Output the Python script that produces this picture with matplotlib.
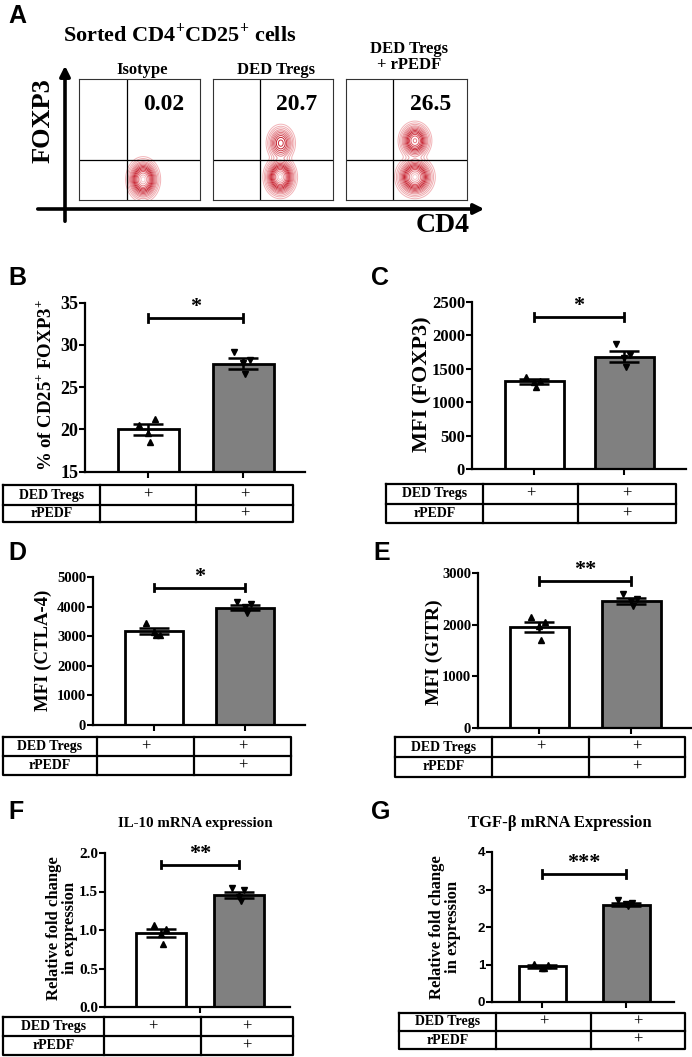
import numpy as np
import matplotlib.pyplot as plt
from matplotlib.colors import LinearSegmentedColormap

plt.rcParams['font.family'] = ['Liberation Serif', 'DejaVu Serif']
plt.rcParams['font.weight'] = 'bold'
plt.rcParams['mathtext.fontset'] = 'custom'
plt.rcParams['mathtext.rm'] = 'Liberation Serif:bold'
plt.rcParams['mathtext.bf'] = 'Liberation Serif:bold'

W, H = 692, 1057

# ---- panel A data ----
flow_samples = ['Isotype', 'DED Tregs', 'DED Tregs\n+ rPEDF']
flow_pct = ['0.02', '20.7', '26.5']
# populations: (x, y, sx, sy, weight) in gate-box fractions
flow_pops = [
    [(0.53, 0.17, 0.05, 0.065, 1.0)],
    [(0.56, 0.19, 0.05, 0.062, 1.0), (0.565, 0.47, 0.047, 0.06, 0.45)],
    [(0.57, 0.19, 0.058, 0.062, 1.0), (0.57, 0.49, 0.05, 0.058, 0.75)],
]

# ---- bar panels data ----
groups = ['DED Tregs', 'DED Tregs + rPEDF']
row_names = ['DED Tregs', 'rPEDF']
row_marks = [['+', '+'], ['', '+']]

b_mean = [20.0, 27.8]
b_sem = [0.6, 0.6]
b_pts = [[20.5, 21.2, 19.6, 18.5], [29.2, 28.2, 27.9, 26.6]]

c_mean = [1310, 1680]
c_sem = [40, 80]
c_pts = [[1380, 1320, 1300, 1230], [1870, 1700, 1660, 1520]]

d_mean = [3180, 3960]
d_sem = [110, 90]
d_pts = [[3450, 3050, 3150, 3030], [4150, 4100, 4000, 3800]]

e_mean = [1950, 2460]
e_sem = [100, 60]
e_pts = [[2150, 2050, 1980, 1700], [2600, 2500, 2450, 2370]]

f_mean = [0.96, 1.46]
f_sem = [0.05, 0.04]
f_pts = [[1.07, 1.01, 0.95, 0.82], [1.55, 1.52, 1.43, 1.38]]

g_mean = [0.95, 2.60]
g_sem = [0.03, 0.05]
g_pts = [[1.02, 0.98, 0.92, 0.90], [2.73, 2.65, 2.62, 2.55]]

jitter = [-0.09, 0.07, 0.0, 0.02]


def rect(l, t, r, b):
    return [l / W, 1 - b / H, (r - l) / W, (b - t) / H]


fig = plt.figure(figsize=(W / 100, H / 100), dpi=100)
fig.patch.set_facecolor('white')

# overlay for free text, arrows and the treatment tables
ov = fig.add_axes([0, 0, 1, 1])
ov.set_xlim(0, W)
ov.set_ylim(H, 0)
ov.axis('off')
ov.patch.set_alpha(0)

# ---------- panel A ----------
ov.text(8, 16, 'A', family='Liberation Sans', fontsize=18, fontweight='bold', va='center')
ov.text(180, 34, 'Sorted CD4$^{+}$CD25$^{+}$ cells', fontsize=16, ha='center', va='center')
ov.annotate('', xy=(65, 63), xytext=(65, 224),
            arrowprops=dict(arrowstyle='-|>,head_length=0.6,head_width=0.3', lw=2.6, color='black'))
ov.annotate('', xy=(487, 209), xytext=(35, 209),
            arrowprops=dict(arrowstyle='-|>,head_length=0.6,head_width=0.3', lw=2.6, color='black'))
ov.text(43, 121, 'FOXP3', fontsize=19, rotation=90, ha='center', va='center')
ov.text(443, 226, 'CD4', fontsize=20, ha='center', va='center')

flow_boxes = [(79, 79, 200, 200), (213, 79, 333, 200), (346, 79, 467, 200)]
flow_qx = [0.40, 0.39, 0.39]
flow_titles_y = [70, 70, 57]
cm = LinearSegmentedColormap.from_list('flow', ['#f2b4b8', '#c41e2c', '#e0606a', '#f6c8cb'])
gx, gy = np.meshgrid(np.linspace(0, 1, 300), np.linspace(0, 1, 300))
for i, pops in enumerate(flow_pops):
    l, t, r, b = flow_boxes[i]
    ax = fig.add_axes(rect(l, t, r, b))
    z = sum(w * np.exp(-((gx - x) ** 2 / (2 * sx ** 2) + (gy - y) ** 2 / (2 * sy ** 2)))
            for x, y, sx, sy, w in pops)
    lv = [0.015, 0.03, 0.05, 0.08, 0.11, 0.15, 0.2, 0.26, 0.33, 0.41, 0.5, 0.6, 0.72, 0.85, 0.95]
    ax.contour(gx, gy, z, levels=lv, cmap=cm, linewidths=0.7)
    ax.axvline(flow_qx[i], color='black', lw=0.9)
    ax.axhline(0.33, color='black', lw=0.9)
    ax.set_xlim(0, 1)
    ax.set_ylim(0, 1)
    ax.set_xticks([])
    ax.set_yticks([])
    for s in ax.spines.values():
        s.set_linewidth(0.8)
        s.set_color('#333333')
    ax.text(0.7, 0.79, flow_pct[i], transform=ax.transAxes, fontsize=17, ha='center', va='center')
    ov.text((l + r) / 2 + 3, flow_titles_y[i], flow_samples[i], fontsize=12,
            ha='center', va='center', linespacing=1.0)


def bar_panel(px, means, sems, pts, ylim, yticks, sig, stars, tsize, xtick_px=None, sans=False):
    left, top, right, bottom, c1, c2, bw = px
    ax = fig.add_axes(rect(left, top, right, bottom))
    u = c2 - c1
    ax.set_xlim(-(c1 - left) / u, 1 + (right - c2) / u)
    ax.set_ylim(*ylim)
    xs = [0, 1]
    ax.bar(xs, means, width=bw / u, color=['white', '#808080'], edgecolor='black', linewidth=2, zorder=2)
    ax.errorbar(xs, means, yerr=sems, fmt='none', ecolor='black', elinewidth=1.8,
                capsize=11, capthick=1.8, zorder=4)
    mk = ['^', 'v']
    for j in range(2):
        ax.plot([xs[j] + o for o in jitter], pts[j], mk[j], color='black', ms=4.5, zorder=3,
                clip_on=False)
    span = ylim[1] - ylim[0]
    d = span * 0.025
    ax.plot([0, 1], [sig, sig], color='black', lw=2, solid_capstyle='butt', clip_on=False)
    ax.plot([0, 0], [sig - d, sig + d], color='black', lw=2, clip_on=False)
    ax.plot([1, 1], [sig - d, sig + d], color='black', lw=2, clip_on=False)
    ax.text(0.5, sig + span * 0.005, stars, ha='center', va='bottom', fontsize=16)
    for s in ['top', 'right']:
        ax.spines[s].set_visible(False)
    for s in ['left', 'bottom']:
        ax.spines[s].set_linewidth(1.6)
    ax.set_yticks(yticks)
    ax.set_yticklabels(['%g' % v for v in yticks])
    if xtick_px is None:
        ax.set_xticks(xs)
    else:
        ax.set_xticks([(xtick_px - c1) / u])
    ax.set_xticklabels([])
    ax.tick_params(axis='both', width=1.5, length=4, direction='out')
    ax.tick_params(axis='y', labelsize=tsize, pad=1)
    if sans:
        for lab in ax.get_yticklabels():
            lab.set_family('Liberation Sans')
            lab.set_fontweight('bold')
    return ax


def table(x0, x1, x2, x3, y0, y1, y2):
    kw = dict(color='black', lw=1.6)
    ov.plot([x0, x3, x3, x0, x0], [y0, y0, y2, y2, y0], **kw)
    ov.plot([x1, x1], [y0, y2], **kw)
    ov.plot([x2, x2], [y0, y2], **kw)
    ov.plot([x0, x3], [y1, y1], **kw)
    cols = [(x1 + x2) / 2, (x2 + x3) / 2]
    for k, (ya, yb) in enumerate([(y0, y1), (y1, y2)]):
        ym = (ya + yb) / 2
        ov.text((x0 + x1) / 2, ym, row_names[k], fontsize=10, ha='center', va='center')
        for c, m in zip(cols, row_marks[k]):
            ov.text(c, ym, m, fontsize=12, ha='center', va='center', fontweight='normal')


def letter(x, y, s):
    ov.text(x, y, s, family='Liberation Sans', fontsize=18, fontweight='bold', va='center')


# ---------- panel B ----------
letter(8, 278, 'B')
bar_panel((85, 302.7, 305, 471.7, 148, 243, 61), b_mean, b_sem, b_pts, (15, 35),
          [15, 20, 25, 30, 35], 33.2, '*', 13)
ov.text(46, 385, '% of CD25$^{+}$ FOXP3$^{+}$', fontsize=13.5, rotation=90, ha='center', va='center')
table(3, 100, 196, 293, 485, 505, 522)

# ---------- panel C ----------
letter(371, 278, 'C')
bar_panel((472, 302, 686, 469, 534, 624, 59), c_mean, c_sem, c_pts, (0, 2500),
          [0, 500, 1000, 1500, 2000, 2500], 2275, '*', 12)
ov.text(422, 384, 'MFI (FOXP3)', fontsize=16, rotation=90, ha='center', va='center')
table(386, 483, 578, 676, 484, 504, 523)

# ---------- panel D ----------
letter(8, 553, 'D')
bar_panel((93, 577, 305, 725, 154, 245, 58), d_mean, d_sem, d_pts, (0, 5000),
          [0, 1000, 2000, 3000, 4000, 5000], 4640, '*', 10.5)
ov.text(43, 650, 'MFI (CTLA-4)', fontsize=13.5, rotation=90, ha='center', va='center')
table(3, 97, 194, 291, 737, 756, 775)

# ---------- panel E ----------
letter(373, 553, 'E')
bar_panel((478, 573, 691, 728, 539, 631, 59), e_mean, e_sem, e_pts, (0, 3000),
          [0, 1000, 2000, 3000], 2845, '**', 10.5)
ov.text(434, 652, 'MFI (GITR)', fontsize=14, rotation=90, ha='center', va='center')
table(395, 492, 589, 685, 737, 757, 777)

# ---------- panel F ----------
letter(8, 812, 'F')
ov.text(195, 823, 'IL-10 mRNA expression', fontsize=10.8, ha='center', va='center')
axf = bar_panel((105, 853, 290, 1007, 161, 239, 50), f_mean, f_sem, f_pts, (0, 2.0),
                [0.0, 0.5, 1.0, 1.5, 2.0], 1.85, '**', 11, xtick_px=200)
axf.set_yticklabels(['0.0', '0.5', '1.0', '1.5', '2.0'])
ov.text(62, 928, 'Relative fold change\nin expression', fontsize=12, rotation=90,
        ha='center', va='center', linespacing=1.0)
table(3, 104, 201, 293, 1017, 1036, 1055)

# ---------- panel G ----------
letter(371, 812, 'G')
ov.text(560, 823, 'TGF-β mRNA Expression', fontsize=12, ha='center', va='center')
bar_panel((492, 852, 674, 1002, 542, 626, 47), g_mean, g_sem, g_pts, (0, 4),
          [0, 1, 2, 3, 4], 3.42, '***', 9.5, sans=True)
ov.text(445, 927, 'Relative fold change\nin expression', fontsize=12, rotation=90,
        ha='center', va='center', linespacing=1.0)
table(399, 496, 591, 685, 1013, 1031, 1049)

fig.savefig('out.png', dpi=100)
